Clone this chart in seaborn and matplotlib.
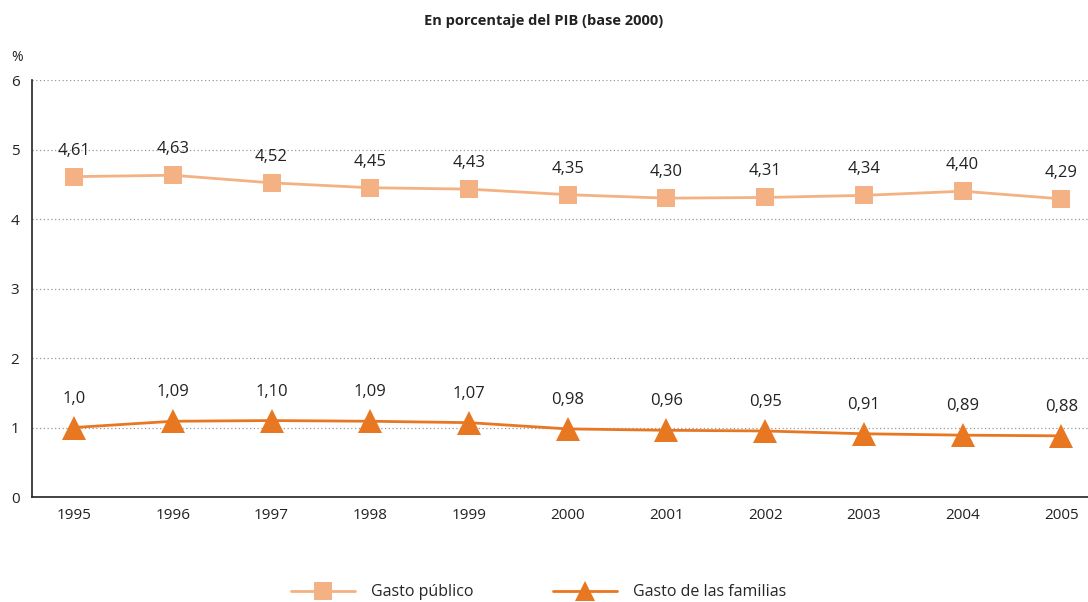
import numpy as np
import pandas as pd
import matplotlib
matplotlib.use("Agg")
import matplotlib.pyplot as plt
import seaborn as sns
from matplotlib.lines import Line2D

years = [1995, 1996, 1997, 1998, 1999, 2000, 2001, 2002, 2003, 2004, 2005]
gasto_publico = [4.61, 4.63, 4.52, 4.45, 4.43, 4.35, 4.30, 4.31, 4.34, 4.40, 4.29]
gasto_familias = [1.00, 1.09, 1.10, 1.09, 1.07, 0.98, 0.96, 0.95, 0.91, 0.89, 0.88]
labels_publico = ["4,61", "4,63", "4,52", "4,45", "4,43", "4,35", "4,30", "4,31", "4,34", "4,40", "4,29"]
labels_familias = ["1,0", "1,09", "1,10", "1,09", "1,07", "0,98", "0,96", "0,95", "0,91", "0,89", "0,88"]

sns.set_style("white")
plt.rcParams['font.family'] = ['Open Sans', 'DejaVu Sans']

df = pd.DataFrame({
    'year': years * 2,
    'value': gasto_publico + gasto_familias,
    'serie': ['Gasto público'] * len(years) + ['Gasto de las familias'] * len(years),
})

c_pub = '#F4B183'
c_fam = '#E87722'

fig = plt.figure(figsize=(10.88, 6.02), dpi=100)
ax = fig.add_axes([0.0294, 0.1744, 0.9706, 0.6927])

sns.lineplot(data=df, x='year', y='value', hue='serie', style='serie',
             palette={'Gasto público': c_pub, 'Gasto de las familias': c_fam},
             markers={'Gasto público': 's', 'Gasto de las familias': '^'},
             dashes=False, markersize=13.5, linewidth=2, markeredgewidth=0,
             ax=ax, legend=False)
# triangles a bit bigger than the squares
for line in ax.lines:
    if line.get_marker() == '^':
        line.set_markersize(17)

for x, y, t in zip(years, gasto_publico, labels_publico):
    ax.annotate(t, (x, y), xytext=(0, 13), textcoords='offset points',
                ha='center', va='bottom', fontsize=12, color='#222222')
for x, y, t in zip(years, gasto_familias, labels_familias):
    ax.annotate(t, (x, y), xytext=(0, 15), textcoords='offset points',
                ha='center', va='bottom', fontsize=12, color='#222222')

ax.set_xlim(1994.574, 2005.27)
ax.set_ylim(0, 6)
ax.set_xticks(years)
ax.set_yticks(range(0, 7))
ax.tick_params(axis='both', length=0, labelsize=11, colors='#222222')
ax.tick_params(axis='x', pad=8)
ax.tick_params(axis='y', pad=9)
for yv in range(1, 7):
    ax.axhline(yv, color='#999999', linestyle=(0, (1, 2)), linewidth=0.9, zorder=0)
ax.set_xlabel('')
ax.set_ylabel('')
ax.spines['top'].set_visible(False)
ax.spines['right'].set_visible(False)
ax.spines['left'].set_color('#222222')
ax.spines['bottom'].set_color('#222222')
ax.spines['left'].set_linewidth(1.2)
ax.spines['bottom'].set_linewidth(1.2)

fig.text(0.5, 0.965, 'En porcentaje del PIB (base 2000)', ha='center', va='center',
         fontsize=10.5, fontweight='bold', color='#222222')
fig.text(0.016, 0.905, '%', ha='center', va='center', fontsize=10, color='#222222')

handles = [
    Line2D([0], [0], color=c_pub, marker='s', markersize=13, linewidth=2, markeredgewidth=0),
    Line2D([0], [0], color=c_fam, marker='^', markersize=15, linewidth=2, markeredgewidth=0),
]
fig.legend(handles, ['Gasto público', 'Gasto de las familias'], loc='center',
           bbox_to_anchor=(0.495, 0.016), ncol=2, frameon=False, fontsize=11.5,
           handlelength=4.0, columnspacing=5, handletextpad=1.0)

fig.savefig('out.png', dpi=100)
